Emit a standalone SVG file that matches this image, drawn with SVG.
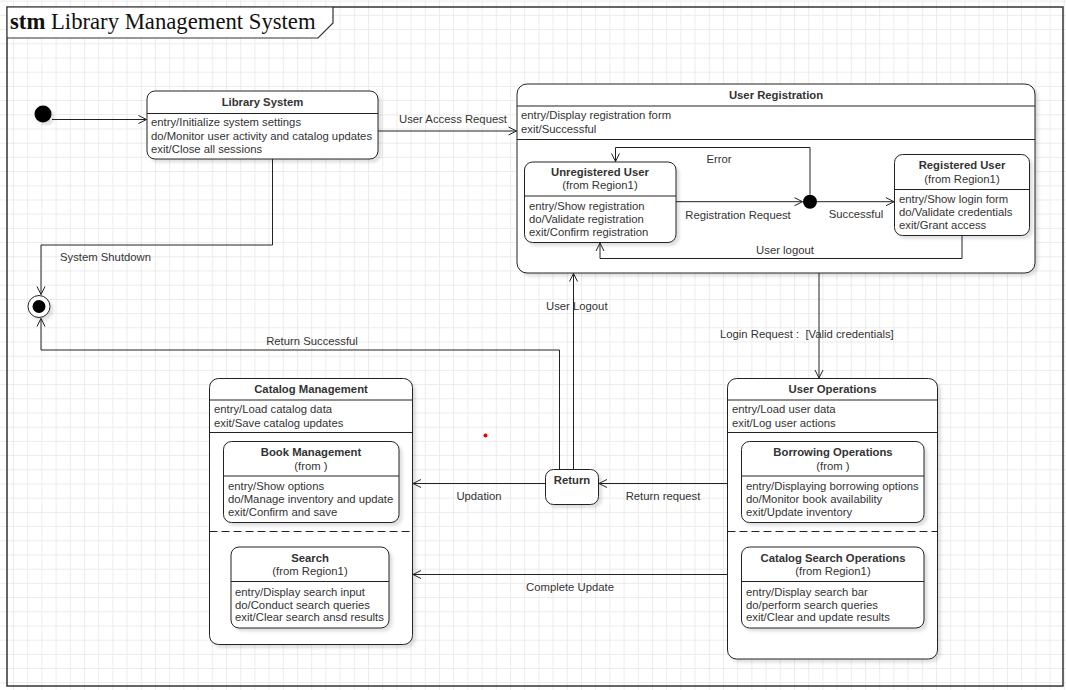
<svg xmlns="http://www.w3.org/2000/svg" width="1066" height="690" viewBox="0 0 1066 690">
  <defs>
    <pattern id="grid" width="14.2" height="14.2" patternUnits="userSpaceOnUse" x="-1.2" y="0.7">
      <path d="M0,0.5 H14.2 M0.5,0 V14.2" fill="none" stroke="#ebebeb" stroke-width="1"/>
    </pattern>
    <marker id="open" markerWidth="10" markerHeight="10" refX="9" refY="5" orient="auto" markerUnits="userSpaceOnUse">
      <path d="M1,1 L9,5 L1,9" fill="none" stroke="#222" stroke-width="1"/>
    </marker>
    <filter id="shadow" x="-10%" y="-10%" width="130%" height="130%">
      <feDropShadow dx="3" dy="3" stdDeviation="1.5" flood-color="#000" flood-opacity="0.12"/>
    </filter>
    <style>
      text { font-family: "Liberation Sans", Arial, sans-serif; font-size: 11.3px; fill: #333; }
      .t { font-weight: bold; text-anchor: middle; }
      .c { text-anchor: middle; }
      .state { fill: #fff; stroke: #222; stroke-width: 1; filter: url(#shadow); }
      .div { stroke: #222; stroke-width: 1; fill: none; }
      .dash { stroke: #222; stroke-width: 1; stroke-dasharray: 8 4; fill: none; }
      .edge { fill: none; stroke: #222; stroke-width: 1; }
      .arr { marker-end: url(#open); }
      .frame { fill: none; stroke: #333; stroke-width: 1.5; }
      .ttl { font-family: "Liberation Serif", "Times New Roman", serif; font-size: 22.7px; fill: #111; }
    </style>
  </defs>

  <!-- canvas grid -->
  <rect width="1066" height="690" fill="#fff"/>
  <rect width="1066" height="690" fill="url(#grid)"/>

  <!-- state machine frame -->
  <g id="frame">
    <rect class="frame" x="7" y="7" width="1056" height="679"/>
    <path d="M7.8,7.8 H332.2 V22.6 L317.6,37.2 H7.8 Z" fill="#fff" stroke="none"/>
    <path d="M7,38 H318 L333,23 V7" fill="none" stroke="#333" stroke-width="1.2"/>
    <text class="ttl" x="10" y="29"><tspan font-weight="bold">stm</tspan> Library Management System</text>
  </g>

  <!-- pseudo states -->
  <g id="initial">
    <circle cx="43" cy="114" r="8.5" fill="#000" filter="url(#shadow)"/>
  </g>
  <g id="final">
    <circle cx="39" cy="306.5" r="11" fill="#fff" stroke="#222" filter="url(#shadow)"/>
    <circle cx="39" cy="306.5" r="6.5" fill="#000"/>
  </g>

  <!-- Library System -->
  <g id="library-system">
    <rect class="state" x="147" y="91" width="231" height="68" rx="8"/>
    <line class="div" x1="147" y1="113.5" x2="378" y2="113.5"/>
    <text class="t" x="262.5" y="106">Library System</text>
    <text x="151" y="126">entry/Initialize system settings</text>
    <text x="151" y="140">do/Monitor user activity and catalog updates</text>
    <text x="151" y="152.5">exit/Close all sessions</text>
  </g>

  <!-- User Registration (composite) -->
  <g id="user-registration">
    <rect class="state" x="517" y="84" width="518" height="189" rx="10"/>
    <line class="div" x1="517" y1="106" x2="1035" y2="106"/>
    <line class="div" x1="517" y1="139.5" x2="1035" y2="139.5"/>
    <text class="t" x="776" y="99">User Registration</text>
    <text x="521" y="119">entry/Display registration form</text>
    <text x="521" y="133">exit/Successful</text>
  </g>

  <g id="unregistered-user">
    <rect class="state" x="524.5" y="162" width="151.5" height="80.5" rx="8"/>
    <line class="div" x1="524.5" y1="196" x2="676" y2="196"/>
    <text class="t" x="600" y="176">Unregistered User</text>
    <text class="c" x="600" y="189">(from Region1)</text>
    <text x="529" y="210">entry/Show registration</text>
    <text x="529" y="223">do/Validate registration</text>
    <text x="529" y="236">exit/Confirm registration</text>
  </g>

  <g id="junction">
    <circle cx="810" cy="201.7" r="7" fill="#000"/>
  </g>

  <g id="registered-user">
    <rect class="state" x="894.5" y="154.5" width="135" height="81" rx="8"/>
    <line class="div" x1="894.5" y1="189.5" x2="1029.5" y2="189.5"/>
    <text class="t" x="962" y="169">Registered User</text>
    <text class="c" x="962" y="182.5">(from Region1)</text>
    <text x="899" y="203">entry/Show login form</text>
    <text x="899" y="216">do/Validate credentials</text>
    <text x="899" y="229">exit/Grant access</text>
  </g>

  <!-- Return -->
  <g id="return">
    <rect class="state" x="545.5" y="469.5" width="53" height="35" rx="8"/>
    <text class="t" x="572" y="484">Return</text>
  </g>

  <!-- Catalog Management (composite, two regions) -->
  <g id="catalog-management">
    <rect class="state" x="209.5" y="378.5" width="203" height="266" rx="9"/>
    <line class="div" x1="209.5" y1="400" x2="412.5" y2="400"/>
    <line class="div" x1="209.5" y1="432.5" x2="412.5" y2="432.5"/>
    <line class="dash" x1="209.5" y1="531.5" x2="412.5" y2="531.5"/>
    <text class="t" x="311" y="393">Catalog Management</text>
    <text x="214" y="413">entry/Load catalog data</text>
    <text x="214" y="427">exit/Save catalog updates</text>
  </g>

  <g id="book-management">
    <rect class="state" x="223.5" y="441.5" width="175.5" height="81" rx="8"/>
    <line class="div" x1="223.5" y1="476" x2="399" y2="476"/>
    <text class="t" x="311" y="456">Book Management</text>
    <text class="c" x="311" y="469.5">(from )</text>
    <text x="228" y="490">entry/Show options</text>
    <text x="228" y="503">do/Manage inventory and update</text>
    <text x="228" y="516">exit/Confirm and save</text>
  </g>

  <g id="search">
    <rect class="state" x="231" y="547" width="158" height="81" rx="8"/>
    <line class="div" x1="231" y1="581.5" x2="389" y2="581.5"/>
    <text class="t" x="310" y="561.5">Search</text>
    <text class="c" x="310" y="575">(from Region1)</text>
    <text x="235" y="595.5">entry/Display search input</text>
    <text x="235" y="608.5">do/Conduct search queries</text>
    <text x="235" y="621">exit/Clear search ansd results</text>
  </g>

  <!-- User Operations (composite, two regions) -->
  <g id="user-operations">
    <rect class="state" x="727.5" y="378.5" width="210" height="280.5" rx="9"/>
    <line class="div" x1="727.5" y1="400" x2="937.5" y2="400"/>
    <line class="div" x1="727.5" y1="432.5" x2="937.5" y2="432.5"/>
    <line class="dash" x1="727.5" y1="531.5" x2="937.5" y2="531.5"/>
    <text class="t" x="832.5" y="393">User Operations</text>
    <text x="732" y="413">entry/Load user data</text>
    <text x="732" y="427">exit/Log user actions</text>
  </g>

  <g id="borrowing-operations">
    <rect class="state" x="741.5" y="441.5" width="182.5" height="81" rx="8"/>
    <line class="div" x1="741.5" y1="476" x2="924" y2="476"/>
    <text class="t" x="833" y="456">Borrowing Operations</text>
    <text class="c" x="833" y="469.5">(from )</text>
    <text x="746" y="490">entry/Displaying borrowing options</text>
    <text x="746" y="503">do/Monitor book availability</text>
    <text x="746" y="516">exit/Update inventory</text>
  </g>

  <g id="catalog-search-operations">
    <rect class="state" x="741.5" y="547" width="182.5" height="81" rx="8"/>
    <line class="div" x1="741.5" y1="581.5" x2="924" y2="581.5"/>
    <text class="t" x="833" y="561.5">Catalog Search Operations</text>
    <text class="c" x="833" y="575">(from Region1)</text>
    <text x="746" y="595.5">entry/Display search bar</text>
    <text x="746" y="608.5">do/perform search queries</text>
    <text x="746" y="621">exit/Clear and update results</text>
  </g>

  <!-- stray marker dot -->
  <circle cx="485.5" cy="435.5" r="2" fill="#e00"/>

  <!-- transitions -->
  <g id="connectors">
    <path class="edge arr" d="M52,119.5 H146.5"/>

    <path class="edge arr" d="M378,131 H516.5"/>
    <text class="c" x="453" y="123">User Access Request</text>

    <path class="edge arr" d="M272.5,159 V245 H41 V294.5"/>
    <text x="60" y="261">System Shutdown</text>

    <path class="edge arr" d="M559.5,469.5 V350 H41 V318.5"/>
    <text class="c" x="312" y="345">Return Successful</text>

    <path class="edge arr" d="M573.5,469.5 V273.5"/>
    <text x="546" y="310">User Logout</text>

    <path class="edge arr" d="M819,273 V378"/>
    <text x="720" y="338" xml:space="preserve">Login Request :  [Valid credentials]</text>

    <path class="edge arr" d="M545.5,483.5 H413"/>
    <text class="c" x="479" y="500">Updation</text>

    <path class="edge arr" d="M727.5,483.5 H599"/>
    <text class="c" x="663" y="500">Return request</text>

    <path class="edge arr" d="M727.5,574.5 H413"/>
    <text class="c" x="570" y="591">Complete Update</text>

    <path class="edge arr" d="M676,201.7 H802.5"/>
    <text class="c" x="738" y="219">Registration Request</text>

    <path class="edge arr" d="M810,194.5 V147.5 H615.5 V161.5"/>
    <text class="c" x="719" y="163">Error</text>

    <path class="edge arr" d="M817,201.7 H894"/>
    <text class="c" x="856" y="218">Successful</text>

    <path class="edge arr" d="M962,235.5 V258.5 H600 V243"/>
    <text class="c" x="785" y="254">User logout</text>
  </g>
</svg>
